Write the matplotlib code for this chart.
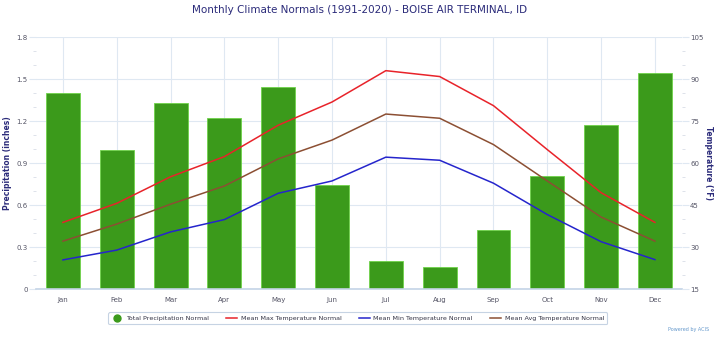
import matplotlib
matplotlib.use('Agg')
import matplotlib.pyplot as plt
from matplotlib.ticker import MultipleLocator
from matplotlib.lines import Line2D

# Данные
months = ['Jan', 'Feb', 'Mar', 'Apr', 'May', 'Jun',
          'Jul', 'Aug', 'Sep', 'Oct', 'Nov', 'Dec']
precip = [1.40, 0.99, 1.33, 1.22, 1.44, 0.74, 0.20, 0.16, 0.42, 0.81, 1.17, 1.54]
t_max = [38.8, 45.6, 55.1, 62.3, 73.5, 81.8, 93.0, 90.9, 80.5, 64.8, 49.4, 38.8]
t_min = [25.4, 28.9, 35.4, 39.8, 49.2, 53.6, 62.1, 61.0, 52.8, 41.6, 31.9, 25.5]
t_avg = [32.1, 38.2, 45.3, 51.8, 61.5, 68.2, 77.5, 76.0, 66.6, 53.6, 40.7, 32.1]

navy = '#2b2b7a'
grid_c = '#dfe8f2'
tick_c = '#555566'

fig = plt.figure(figsize=(7.2, 3.37), dpi=100)
ax = fig.add_axes([0.05, 0.1424, 0.897, 0.7476])
x = range(len(months))

ax.bar(x, precip, width=0.63, color='#3b9a1b', edgecolor='#6fd24a', linewidth=0.6, zorder=2)
ax.set_xlim(-0.5, 11.5)
ax.set_ylim(0, 1.8)
ax.set_yticks([0, 0.3, 0.6, 0.9, 1.2, 1.5, 1.8])
ax.set_yticklabels(['0', '0.3', '0.6', '0.9', '1.2', '1.5', '1.8'])
ax.yaxis.set_minor_locator(MultipleLocator(0.1))
ax.set_xticks(list(x))
ax.set_xticklabels(months)
ax.grid(True, color=grid_c, linewidth=0.8, zorder=0)
ax.set_axisbelow(True)
for s in ['top', 'left', 'right']:
    ax.spines[s].set_visible(False)
ax.spines['bottom'].set_color('#c4d4e6')
ax.spines['bottom'].set_linewidth(1.2)
ax.tick_params(axis='y', which='major', length=5, color=grid_c, labelsize=5, labelcolor=tick_c, pad=1)
ax.tick_params(axis='y', which='minor', length=2.5, color='#d8dde6')
ax.tick_params(axis='x', length=0, labelsize=5, labelcolor=tick_c, pad=6)
ax.set_ylabel('Precipitation (inches)', fontsize=5.5, color=navy, fontweight='bold', labelpad=3)

ax2 = ax.twinx()
ax2.plot(x, t_max, color='#e8232a', linewidth=1.1, zorder=3)
ax2.plot(x, t_min, color='#2525cc', linewidth=1.1, zorder=3)
ax2.plot(x, t_avg, color='#8c4f33', linewidth=1.1, zorder=3)
ax2.set_ylim(15, 105)
ax2.set_yticks([15, 30, 45, 60, 75, 90, 105])
ax2.yaxis.set_minor_locator(MultipleLocator(5))
for s in ['top', 'left', 'right', 'bottom']:
    ax2.spines[s].set_visible(False)
ax2.tick_params(axis='y', which='major', length=5, color=grid_c, labelsize=5, labelcolor=tick_c, pad=1)
ax2.tick_params(axis='y', which='minor', length=2.5, color='#d8dde6')
ax2.set_ylabel('Temperature (\u00b0F)', fontsize=5.5, color=navy, fontweight='bold',
               rotation=270, labelpad=7)

fig.suptitle('Monthly Climate Normals (1991-2020) - BOISE AIR TERMINAL, ID',
             fontsize=7.5, color=navy, y=0.985)

handles = [
    Line2D([], [], marker='o', linestyle='none', markersize=5, color='#3b9a1b'),
    Line2D([], [], color='#e8232a', linewidth=1.1),
    Line2D([], [], color='#2525cc', linewidth=1.1),
    Line2D([], [], color='#8c4f33', linewidth=1.1),
]
labels = ['Total Precipitation Normal', 'Mean Max Temperature Normal',
          'Mean Min Temperature Normal', 'Mean Avg Temperature Normal']
leg = fig.legend(handles, labels, loc='center', bbox_to_anchor=(0.497, 0.0555),
                 ncol=4, fontsize=4.6, frameon=True, handlelength=1.6,
                 columnspacing=2.8, handletextpad=0.6, borderpad=0.5,
                 labelcolor='#333344')
leg.get_frame().set_edgecolor('#b8c8dc')
leg.get_frame().set_linewidth(0.8)

fig.text(0.985, 0.015, 'Powered by ACIS', fontsize=3.5, color='#6699cc', ha='right', va='bottom')

plt.savefig('out.png', dpi=100)
plt.close()
